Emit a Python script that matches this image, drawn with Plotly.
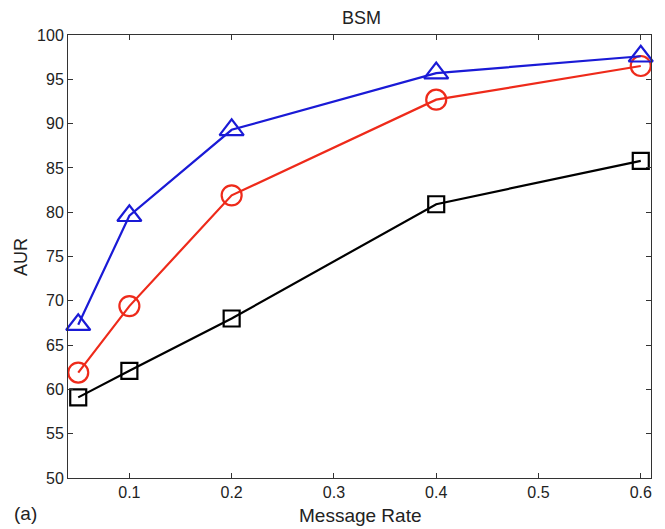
import plotly.graph_objects as go

x_vals = [0.05, 0.1, 0.2, 0.4, 0.6]
blue_tri = [67.3, 79.6, 89.3, 95.7, 97.6]
red_circ = [61.9, 69.4, 81.9, 92.7, 96.5]
black_sq = [59.1, 62.1, 68.0, 80.9, 85.8]

x_ticks = [0.1, 0.2, 0.3, 0.4, 0.5, 0.6]
y_ticks = [50, 55, 60, 65, 70, 75, 80, 85, 90, 95, 100]

FONT = "Liberation Sans, Arial, sans-serif"
TXT = "#222222"

fig = go.Figure()
series = [
    (black_sq, "#000000", "square-open", 16),
    (red_circ, "#ee2a1a", "circle-open", 20),
    (blue_tri, "#1a1ad6", "triangle-up-open", 21),
]
for ys, col, sym, sz in series:
    fig.add_trace(go.Scatter(
        x=x_vals, y=ys, mode="lines+markers",
        line=dict(color=col, width=2.2),
        marker=dict(symbol=sym, size=sz, color=col, line=dict(color=col, width=2.2)),
        showlegend=False, cliponaxis=False,
    ))

axis_common = dict(
    showgrid=False, zeroline=False, showline=True, linecolor="#333333", linewidth=1,
    mirror="ticks", ticks="inside", ticklen=5, tickcolor="#333333",
    tickfont=dict(family=FONT, size=16, color=TXT),
)
fig.update_xaxes(range=[0.04, 0.61], tickvals=x_ticks, ticktext=[str(v) for v in x_ticks], **axis_common)
fig.update_yaxes(range=[50, 100], tickvals=y_ticks, ticktext=[str(v) for v in y_ticks], **axis_common)

W, H = 665, 529
L, R, T, B = 68, 14, 35, 51
pw, ph = W - L - R, H - T - B

def px(xp):
    return (xp - L) / pw

def py(yp):
    return (H - B - yp) / ph

fig.update_layout(
    width=W, height=H,
    margin=dict(l=L, r=R, t=T, b=B),
    paper_bgcolor="white", plot_bgcolor="white",
    annotations=[
        dict(text="BSM", xref="paper", yref="paper", x=px(361), y=py(18),
             xanchor="center", yanchor="middle", showarrow=False,
             font=dict(family=FONT, size=18, color=TXT)),
        dict(text="Message Rate", xref="paper", yref="paper", x=px(360), y=py(515),
             xanchor="center", yanchor="middle", showarrow=False,
             font=dict(family=FONT, size=19, color=TXT)),
        dict(text="AUR", xref="paper", yref="paper", x=px(21), y=py(257),
             xanchor="center", yanchor="middle", showarrow=False, textangle=-90,
             font=dict(family=FONT, size=18, color=TXT)),
        dict(text="(a)", xref="paper", yref="paper", x=px(25), y=py(513),
             xanchor="center", yanchor="middle", showarrow=False,
             font=dict(family=FONT, size=19, color=TXT)),
    ],
)

fig.write_html("out.html")
